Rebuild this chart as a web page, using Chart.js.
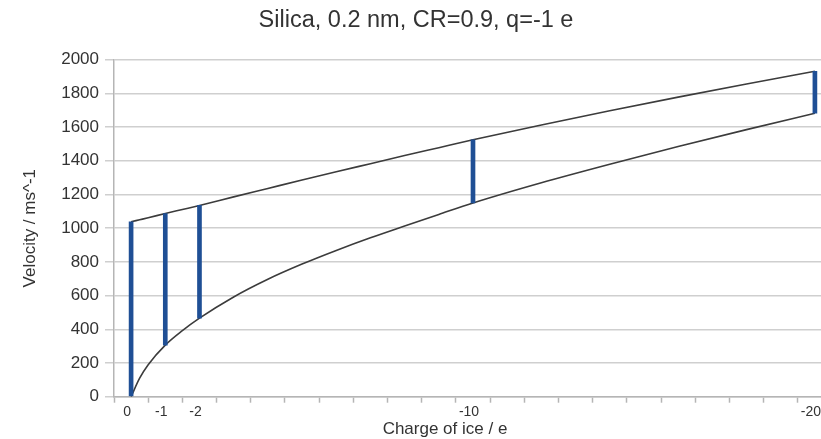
<!DOCTYPE html>
<html>
<head>
<meta charset="utf-8">
<script src="https://cdn.jsdelivr.net/npm/chart.js@4/dist/chart.umd.min.js"></script>
<style>
  html, body { margin: 0; padding: 0; overflow: hidden; background: #ffffff; }
  canvas { display: block; }
</style>
</head>
<body>
<canvas id="chart" width="840" height="439"></canvas>
<script>
// Charge of the ice grain (e) at which both velocity curves are sampled
const charges = [0, -0.25, -0.5, -1, -1.5, -2, -3, -4, -5, -6, -7, -8, -9, -10, -12, -14, -16, -18, -20];
// Upper velocity bound (m/s)
const upperVelocity = [1038, 1050, 1062, 1087, 1111, 1135, 1186, 1236, 1286, 1335, 1383, 1431, 1478, 1525, 1613, 1697, 1778, 1856, 1931];
// Lower velocity bound (m/s)
const lowerVelocity = [0, 110, 190, 306, 392, 466, 592, 697, 787, 868, 943, 1013, 1082, 1150, 1270, 1380, 1485, 1585, 1682];
// Charges marked with a velocity range bar and a tick label
const markedCharges = [0, -1, -2, -10, -20];

const chartTitle = 'Silica, 0.2 nm, CR=0.9, q=-1 e';
const xTitle = 'Charge of ice / e';
const yTitle = 'Velocity / ms^-1';

const FONT = '"Liberation Sans", Arial, sans-serif';
const TEXT = '#333333';
const GRID = '#cfcfcf';
const AXIS = '#b5b5b5';

const upperPoints = charges.map((q, i) => ({ x: q, y: upperVelocity[i] }));
const lowerPoints = charges.map((q, i) => ({ x: q, y: lowerVelocity[i] }));
const rangeBars = markedCharges.map(q => {
  const i = charges.indexOf(q);
  return { x: q, y: [lowerVelocity[i], upperVelocity[i]] };
});

// Minor tick marks sit half a unit either side of each integer charge
const minorTicks = [];
for (let v = -20.5; v <= 0.5; v += 1) minorTicks.push(v);

const chargeAxisTitle = {
  id: 'chargeAxisTitle',
  afterDraw(chart) {
    const { ctx } = chart;
    ctx.save();
    ctx.font = '17px ' + FONT;
    ctx.fillStyle = TEXT;
    ctx.textAlign = 'center';
    ctx.textBaseline = 'middle';
    ctx.fillText(xTitle, 445, 429);
    ctx.restore();
  }
};

new Chart(document.getElementById('chart'), {
  type: 'line',
  data: {
    datasets: [
      {
        type: 'bar',
        data: rangeBars,
        backgroundColor: '#1f4f95',
        borderWidth: 0,
        barThickness: 4,
        grouped: false,
        order: 0
      },
      {
        data: upperPoints,
        borderColor: '#3c3c3c',
        borderWidth: 1.6,
        pointRadius: 0,
        fill: false,
        cubicInterpolationMode: 'monotone',
        order: 1
      },
      {
        data: lowerPoints,
        borderColor: '#3c3c3c',
        borderWidth: 1.6,
        pointRadius: 0,
        fill: false,
        cubicInterpolationMode: 'monotone',
        order: 1
      }
    ]
  },
  options: {
    responsive: false,
    animation: false,
    devicePixelRatio: 1,
    layout: { padding: { top: 0, right: 8, bottom: 0, left: 0 } },
    plugins: {
      legend: { display: false },
      tooltip: { enabled: false },
      title: {
        display: true,
        text: chartTitle,
        color: TEXT,
        font: { family: FONT, size: 23.5, weight: 'normal' },
        padding: { top: 6, bottom: 25.5 }
      }
    },
    scales: {
      x: {
        type: 'linear',
        reverse: true,
        min: -20.5,
        max: 0.5,
        offset: false,
        afterBuildTicks(scale) {
          const values = minorTicks.concat(markedCharges).sort((a, b) => a - b);
          scale.ticks = values.map(v => ({ value: v }));
        },
        afterFit(scale) { scale.height = 42.3; },
        grid: {
          offset: false,
          drawOnChartArea: false,
          drawTicks: true,
          tickLength: 6,
          tickWidth: 1.5,
          tickColor: ctx => (ctx.tick && markedCharges.includes(ctx.tick.value)) ? 'rgba(0,0,0,0)' : AXIS
        },
        border: { display: true, color: AXIS, width: 1.5 },
        ticks: {
          autoSkip: false,
          maxRotation: 0,
          padding: 1,
          labelOffset: -4,
          color: TEXT,
          font: { family: FONT, size: 14 },
          callback: v => markedCharges.includes(v) ? String(v) : ''
        }
      },
      y: {
        min: 0,
        max: 2000,
        afterFit(scale) { scale.width = 114; },
        ticks: {
          stepSize: 200,
          padding: 6,
          color: TEXT,
          font: { family: FONT, size: 17 },
          callback: v => String(v)
        },
        grid: {
          color: GRID,
          lineWidth: 1.5,
          tickLength: 9,
          tickColor: GRID
        },
        border: { display: true, color: AXIS, width: 1.5 },
        title: {
          display: true,
          text: yTitle,
          color: TEXT,
          font: { family: FONT, size: 17 },
          padding: { top: 20, bottom: 0 }
        }
      }
    }
  },
  plugins: [chargeAxisTitle]
});
</script>
</body>
</html>
